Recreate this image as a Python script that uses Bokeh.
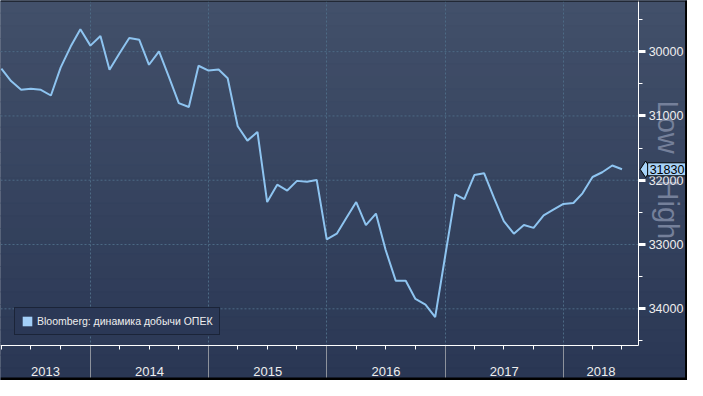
import math
import pandas as pd
from bokeh.plotting import figure
from bokeh.models import (Range1d, LinearAxis, FixedTicker, DatetimeTickFormatter,
                          BasicTickFormatter, Label, Legend, LegendItem, BoxAnnotation, Grid)
from bokeh.embed import file_html
from bokeh.resources import INLINE

# ---------------- data ----------------
first_month = "2013-04-01"
opec_output = [30264, 30458, 30593, 30578, 30593, 30682, 30249, 29921, 29652, 29906,
               29757, 30280, 30025, 29787, 29816, 30204, 29996, 30399, 30801, 30861,
               30219, 30294, 30279, 30413, 31160, 31384, 31249, 32339, 32070, 32160,
               32010, 32025, 31995, 32921, 32831, 32592, 32339, 32697, 32518, 33085,
               33562, 33562, 33846, 33936, 34130, 33175, 32219, 32294, 31920, 31891,
               32279, 32637, 32831, 32697, 32741, 32548, 32458, 32369, 32354, 32204,
               31950, 31876, 31771, 31830]
series_name = "Bloomberg: динамика добычи ОПЕК"
last_label = "31830"
year_labels = ["2013", "2014", "2015", "2016", "2017", "2018"]
year_starts = ["2014-01-01", "2015-01-01", "2016-01-01", "2017-01-01", "2018-01-01"]
y_major = [30000, 31000, 32000, 33000, 34000]
y_minor = [29500, 30500, 31500, 32500, 33500, 34500]
scale_note = "Low - High"

dates = pd.date_range(first_month, periods=len(opec_output), freq="MS")


def ms(ts):
    return pd.Timestamp(ts).value / 1e6


# ---------------- layout mapping (reference pixels -> data) ----------------
W, H = 687, 380
REF_W, REF_H = 703, 396
t_2014 = ms("2014-01-01")
ms_per_ref_px = 365.25 * 86400000 / 121.0


def xref(px):
    return t_2014 + (px - 92.0) * ms_per_ref_px


def yref(py):
    return 30000 + (py - 53.3) * 1000.0 / 67.0


x_start, x_end = xref(0), xref(REF_W)
y_bottom, y_top = yref(REF_H), yref(0)
x_axis_at = xref(653)
y_axis_at = yref(360)
ms_per_px = (x_end - x_start) / W

p = figure(width=W, height=H, x_range=Range1d(x_start, x_end), y_range=Range1d(y_bottom, y_top),
           x_axis_location=None, y_axis_location=None, toolbar_location=None,
           output_backend="svg", min_border=0, title=None)
p.grid.visible = False
p.outline_line_color = None
p.background_fill_color = "#36445f"
p.border_fill_color = "#36445f"

# background gradient bands
n_bands = 30
top_rgb = (66, 80, 106)
bot_rgb = (42, 55, 84)
edges = [y_top + (y_bottom - y_top) * k / n_bands for k in range(n_bands + 1)]
band_cols = ["#%02x%02x%02x" % tuple(int(round(t + (b - t) * (k + 0.5) / n_bands))
                                     for t, b in zip(top_rgb, bot_rgb)) for k in range(n_bands)]
p.quad(left=x_start, right=x_end, top=edges[:-1], bottom=edges[1:],
       fill_color=band_cols, line_color=band_cols, line_width=1, level="image")

# grid
grid_col = "#4d6a85"
boundary_ms = [ms(d) for d in year_starts]
p.add_layout(Grid(dimension=0, ticker=FixedTicker(ticks=boundary_ms),
                  grid_line_color=grid_col, grid_line_dash="2 2", grid_line_width=1))
p.segment(x0=x_start, x1=x_axis_at, y0=y_major, y1=y_major,
          line_color=grid_col, line_dash="2 2", line_width=1, level="underlay")

# series
p.line(dates, opec_output, line_color="#8ec4f0", line_width=2)
# zero-area swatch renderer used only for the square legend glyph
sq = p.quad(left=[dates[-1]], right=[dates[-1]], top=[opec_output[-1]], bottom=[opec_output[-1]],
            fill_color="#a3cff8", line_color=None)

legend = Legend(items=[LegendItem(label=series_name, renderers=[sq])], location=(14, 45),
                background_fill_color="#2b3856", background_fill_alpha=1,
                border_line_color="#0b1019", border_line_width=1.2,
                label_text_color="#eeeeee", label_text_font="Liberation Sans",
                label_text_font_size="10.5px", glyph_width=12, glyph_height=12,
                padding=6, margin=0, spacing=0, label_standoff=4, label_height=14)
p.add_layout(legend)

# right axis
yax = LinearAxis(fixed_location=x_axis_at, ticker=FixedTicker(ticks=y_major, minor_ticks=y_minor),
                 formatter=BasicTickFormatter(use_scientific=False), bounds=(y_top, y_axis_at),
                 axis_line_color="white", axis_line_width=1,
                 major_tick_line_color="white", major_tick_line_width=3, major_tick_out=7, major_tick_in=0,
                 minor_tick_line_color="white", minor_tick_line_width=1, minor_tick_out=4, minor_tick_in=0,
                 major_label_text_color="#eeeeee", major_label_text_font="Liberation Sans",
                 major_label_text_font_size="12.5px", major_label_standoff=3)
p.add_layout(yax, "right")

# bottom axis: year boundary lines
bax = LinearAxis(fixed_location=y_axis_at, ticker=FixedTicker(ticks=boundary_ms, minor_ticks=[]),
                 bounds=(x_start, x_axis_at), axis_line_color=None,
                 major_tick_line_color="#8d929c", major_tick_line_width=1, major_tick_out=33, major_tick_in=0,
                 minor_tick_line_color=None,
                 major_label_overrides={b: "" for b in boundary_ms},
                 major_label_text_font_size="0px", major_label_text_color=None)
p.add_layout(bax, "below")

# bottom axis: year labels and quarter ticks
mid_ticks = [(a + b) / 2 for a, b in zip([x_start] + boundary_ms, boundary_ms + [x_axis_at])]
quarters = [ms(d) for d in pd.date_range(first_month, dates[-1], freq="QS") if d.month != 1]
xax = LinearAxis(fixed_location=y_axis_at, ticker=FixedTicker(ticks=mid_ticks, minor_ticks=quarters),
                 formatter=DatetimeTickFormatter(years="%Y", months="%Y", days="%Y"),
                 major_label_overrides=dict(zip(mid_ticks, year_labels)),
                 bounds=(x_start, x_axis_at), axis_line_color="white", axis_line_width=1,
                 major_tick_line_color=None, major_tick_out=0, major_tick_in=0,
                 minor_tick_line_color="white", minor_tick_out=4, minor_tick_in=0,
                 major_label_text_color="#eeeeee", major_label_text_font="Liberation Sans",
                 major_label_text_font_size="13px", major_label_standoff=17)
p.add_layout(xax, "below")

# last value marker
p.scatter(x=[x_axis_at + 7 * ms_per_px], y=[opec_output[-1]], marker="diamond", size=16.5,
          fill_color="#a8d3f8", line_color="black", line_width=1)
p.add_layout(Label(x=x_axis_at, y=opec_output[-1], text=last_label, x_offset=9,
                   text_align="left", text_baseline="middle", text_font="Liberation Sans",
                   text_font_size="12.5px", text_color="black",
                   background_fill_color="#a8d3f8", border_line_color="black",
                   border_line_width=1, padding=2))

# Low - High note
p.add_layout(Label(x=xref(683), y=yref(176.5), text=scale_note, angle=-90, angle_units="deg",
                   text_align="center", text_baseline="middle", text_font="Liberation Sans",
                   text_font_size="29px", text_color="#75809a", level="underlay"))

# black frame edges
p.add_layout(BoxAnnotation(left=xref(700.5), fill_color="black", fill_alpha=1, line_color=None))
p.add_layout(BoxAnnotation(top=yref(393), fill_color="black", fill_alpha=1, line_color=None))
p.add_layout(BoxAnnotation(bottom=yref(1), fill_color="black", fill_alpha=1, line_color=None))

open("out.html", "w").write(file_html(p, INLINE))
